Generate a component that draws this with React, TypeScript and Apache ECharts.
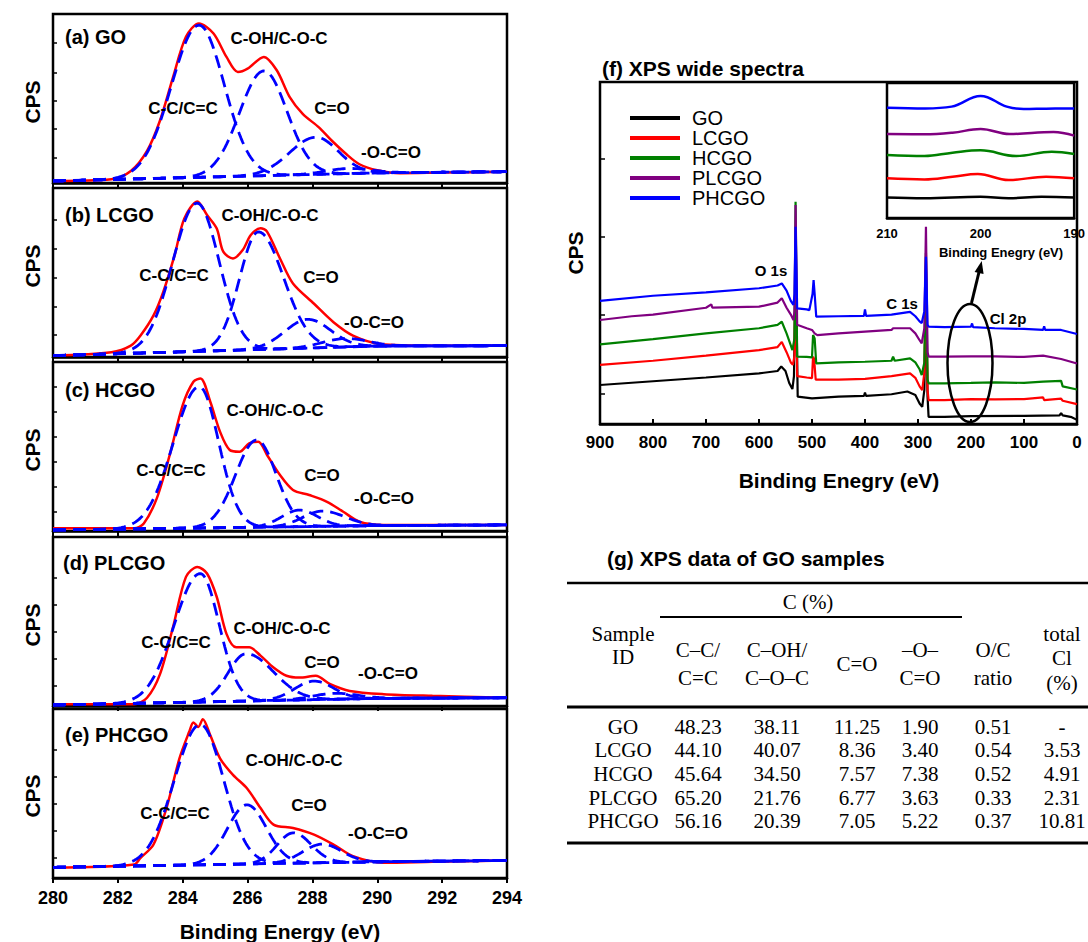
import React, { useEffect, useRef } from "react";
import * as echarts from "echarts";

const SANS = '"Liberation Sans", Arial, Helvetica, sans-serif';
const SERIF = '"Liberation Serif", "Times New Roman", serif';

// ---------- C 1s high-resolution panels (a)-(e) ----------
const panelNames = ["(a) GO", "(b) LCGO", "(c) HCGO", "(d) PLCGO", "(e) PHCGO"];
const componentNames = ["C-C/C=C", "C-OH/C-O-C", "C=O", "-O-C=O"];

// measured envelopes [binding energy eV, relative CPS]
const envGO = [[280,1.2],[281.8,2.2],[282.4,7.1],[282.9,19],[283.3,37],[283.7,62.5],[284.1,86.5],[284.5,94.4],[284.95,88.5],[285.35,74.6],[285.7,65.7],[286.0,67.7],[286.5,74.6],[286.9,66.7],[287.3,50.8],[287.7,40.9],[288.2,32.9],[288.6,25],[289.05,17],[289.45,11.1],[290,7.5],[290.7,5.8],[292,6.2],[294,6.7]];
const envLCGO = [[280,0.8],[281.8,2.8],[282.4,6.7],[282.7,12.7],[283.1,24.6],[283.4,38.5],[283.75,60.3],[284.05,82],[284.45,92],[284.75,84],[285.05,76],[285.25,62.3],[285.55,58.3],[285.85,63.3],[286.1,72.2],[286.4,76.2],[286.6,74.2],[287,58.3],[287.4,43.5],[288.05,31.5],[288.65,20.6],[289.25,12.7],[290.1,7.7],[291.7,6.7],[294,6.7]];
const envHCGO = [[280,1.6],[282.5,1.6],[282.8,4.5],[283.2,19.3],[283.6,45],[284.0,74.5],[284.33,88.3],[284.55,90.3],[284.85,76.5],[285.15,58.8],[285.45,47.9],[285.75,46.9],[286.05,51.9],[286.33,52.8],[286.6,45],[287,33.1],[287.4,24.3],[287.9,21.3],[288.45,17.3],[288.95,11.4],[289.45,5.5],[290.2,3.6],[294,3.6]];
const envPLCGO = [[280,1],[282.5,1],[282.9,4.9],[283.3,18.9],[283.7,46.6],[284.1,76.4],[284.45,82.3],[284.75,78.4],[285.05,64.5],[285.35,42.7],[285.65,34.7],[286.05,34.7],[286.4,29.8],[286.8,22.8],[287.2,17.9],[287.6,16.8],[288.1,17.9],[288.55,12.9],[289.15,8.9],[290.2,7],[291.7,6],[294,4.9]];
const envPHCGO = [[280,6.1],[282.5,8],[282.7,11.9],[283.1,19.8],[283.5,41.4],[283.9,70.8],[284.2,86.5],[284.33,92],[284.48,89.4],[284.62,94],[284.85,84.5],[285.15,70.8],[285.55,61],[285.98,53.1],[286.4,41.4],[286.8,31.6],[287.4,29.6],[288.05,25.7],[288.65,19.8],[289.25,12.9],[290.2,9],[291.7,9.6],[294,10.4]];

// background (baseline) nodes [eV, CPS]
const baseGO = [[280,1.2],[290,6],[294,6.7]];
const baseLCGO = [[280,0.8],[290,6.5],[294,6.7]];
const baseHCGO = [[280,0.6],[290,3.2],[294,3.6]];
const basePLCGO = [[280,0.6],[290,4.5],[294,4.9]];
const basePHCGO = [[280,6.3],[290,9.6],[294,10.4]];

// fitted components [centre eV, height, width low-eV side, width high-eV side]
const fitGO = [[284.5,90,0.85,0.78],[286.5,62,0.75,0.72],[288.1,22,0.8,0.7],[289.1,3,0.7,0.7]];
const fitLCGO = [[284.44,87.7,0.75,0.68],[286.33,69.6,0.58,0.78],[287.85,17,0.7,0.7],[289.0,5,0.7,0.7]];
const fitHCGO = [[284.51,83.6,0.8,0.6],[286.28,51.6,0.65,0.6],[287.6,9.8,0.55,0.55],[288.3,9,0.6,0.7]];
const fitPLCGO = [[284.54,76,0.8,0.58],[285.95,28,0.55,0.85],[288.05,11,0.6,0.6],[288.7,3.5,0.7,0.7]];
const fitPHCGO = [[284.54,83,0.8,0.72],[285.98,35,0.6,0.6],[287.41,18,0.5,0.55],[288.3,11,0.6,0.6]];

const envelopes = [envGO, envLCGO, envHCGO, envPLCGO, envPHCGO];
const baselines = [baseGO, baseLCGO, baseHCGO, basePLCGO, basePHCGO];
const fits = [fitGO, fitLCGO, fitHCGO, fitPLCGO, fitPHCGO];

// ---------- (f) wide spectra [eV, CPS] ----------
const wideGO = [[900,11.4],[800,12.5],[700,13.6],[600,14.8],[565,15.5],[558,16.8],[550,15.5],[543,12],[537,10.2],[534,14],[531,45],[529,30],[527,8],[500,7.5],[450,8],[402,8.2],[400,9.2],[398,8.2],[350,8.7],[320,9.5],[305,8.5],[297,6],[292,5],[288,10],[285,40],[282,8],[280,2.1],[250,2.1],[200,2.3],[100,2.4],[33,2.5],[30,3.2],[27,2.5],[10,2],[0,1.2]];
const wideLCGO = [[900,17.3],[800,18.5],[700,20],[600,21.6],[565,22.5],[557,24],[548,21],[540,18],[536,17.3],[533,20],[531,50],[528,14],[510,13.6],[500,13.4],[498,19.7],[496,19],[493,13],[450,13],[400,13.2],[350,14],[315,14.8],[305,13.5],[297,11],[292,9.9],[288,15],[285,45],[282,10],[280,7],[250,7],[200,7.3],[155,7.2],[100,7.3],[64,7.8],[62,7],[30,7.4],[27,6.8],[0,5.8]];
const wideHCGO = [[900,23.3],[800,24.8],[700,26.5],[600,28],[565,29],[557,29.9],[548,26.5],[540,23],[537,21.6],[533,25],[531,65],[528,19.7],[510,19.6],[500,19.5],[498,26],[495,25],[492,17.7],[450,18],[400,18.2],[350,18.5],[347,19.7],[344,18.5],[315,19.2],[305,18],[297,16],[293,14.3],[288,18],[285,50],[282,13],[280,11.9],[250,11.9],[200,12],[155,12.2],[100,12],[64,12.4],[30,12.6],[27,11],[0,10.1]];
const widePLCGO = [[900,30.4],[840,31.5],[800,32],[700,34],[690,35],[688,34],[600,34.3],[565,35.5],[557,36.8],[548,34],[540,32],[535,30.4],[533,33],[531,64],[528,29],[510,28],[500,27.5],[495,26.5],[490,26],[450,26.5],[400,27],[350,27.5],[347,28],[315,28],[305,26.5],[297,24.5],[293,23.6],[288,28],[285,57.7],[282,21],[280,19.7],[250,19.7],[200,19.8],[155,19.8],[100,19.6],[64,20],[30,19],[0,17.7]];
const widePHCGO = [[900,36],[800,37.5],[700,38.5],[600,39.7],[565,40.5],[557,41.1],[548,39],[540,36],[535,34.8],[533,38],[531,57.7],[528,33.8],[510,33.5],[505,33.3],[499,38],[497,42.1],[495,38],[492,31.4],[450,31.5],[402,31.6],[400,33.5],[398,31.6],[350,32],[315,32.8],[305,31.5],[297,30],[293,29.5],[288,33],[285,48.9],[282,29],[280,28.5],[250,28.3],[200,28.5],[198,29.4],[196,28.3],[155,28],[100,27.8],[64,27.5],[62,28.6],[60,27.5],[30,27.5],[0,26.3]];

// inset: Cl 2p region
const insetGO = [[210,15.1],[206,14.6],[200,15.8],[197,14.6],[193.5,15.8],[190,15.1]];
const insetLCGO = [[210,29.4],[206,28.6],[203,30.6],[200.3,32.6],[197,28.1],[193,30.6],[190,29.4]];
const insetHCGO = [[210,46.7],[206,45.9],[203,48.4],[200,50.1],[196.2,45.9],[192.4,49.1],[190,47.4]];
const insetPLCGO = [[210,62.2],[206,62],[203,63.2],[200,65.9],[196.9,62.2],[192.2,63.7],[190,61]];
const insetPHCGO = [[210,81.7],[205.9,81.2],[203.1,82.5],[200,90.4],[197.2,82.5],[195.4,80.7],[193,81],[190,81.2]];

const sampleNames = ["GO", "LCGO", "HCGO", "PLCGO", "PHCGO"];
const sampleColors = ["#000000", "#ff0000", "#008000", "#800080", "#0000ff"];
const wideData = [wideGO, wideLCGO, wideHCGO, widePLCGO, widePHCGO];
const insetData = [insetGO, insetLCGO, insetHCGO, insetPLCGO, insetPHCGO];

// ---------- (g) table ----------
const tableIds = ["GO", "LCGO", "HCGO", "PLCGO", "PHCGO"];
const colCC = ["48.23", "44.10", "45.64", "65.20", "56.16"];
const colCOH = ["38.11", "40.07", "34.50", "21.76", "20.39"];
const colCO = ["11.25", "8.36", "7.57", "6.77", "7.05"];
const colOCO = ["1.90", "3.40", "7.38", "3.63", "5.22"];
const colOC = ["0.51", "0.54", "0.52", "0.33", "0.37"];
const colCl = ["-", "3.53", "4.91", "2.31", "10.81"];

// ---------- layout / style constants ----------
const PANEL_LEFT = 53;
const PANEL_WIDTH = 454;
const PANEL_HEIGHT = 169;
const PANEL_TOPS = [14, 188, 362, 537, 709];
const PANEL_YTICKS = [
  [14.9, 32.1, 48.8, 65.5, 82.7],
  [13, 30, 47, 64, 81],
  [11.4, 26.2, 41, 55.8, 70.6, 85.4],
  [12, 28, 44, 60, 76],
  [12, 28, 44, 60, 76],
];
const PANEL_NAME_POS = [[65, 37], [65, 215], [65, 390], [63, 563], [65, 735]];
const COMP_LABEL_POS = [
  [[183, 108], [279, 38], [332, 108], [391, 152]],
  [[174, 275], [270, 215], [321, 277], [374, 322]],
  [[171, 470], [275, 410], [322, 475], [384, 498]],
  [[176, 642], [282, 628], [322, 662], [388, 673]],
  [[175, 813], [294, 760], [309, 805], [378, 833]],
];
const CPS_Y = [102, 266, 450, 625, 796];

const COL_X = [623, 698, 777, 857, 920, 993, 1062];
const ROW_Y = [727, 750, 774, 798, 821];

function bgAt(base: number[][], x: number) {
  for (let i = 0; i < base.length - 1; i++) {
    const [x0, y0] = base[i];
    const [x1, y1] = base[i + 1];
    if (x >= x0 && x <= x1) return y0 + ((y1 - y0) * (x - x0)) / (x1 - x0);
  }
  return base[base.length - 1][1];
}

function componentCurve(base: number[][], p: number[]) {
  const pts: number[][] = [];
  for (let i = 0; i <= 280; i++) {
    const x = 280 + i * 0.05;
    const s = x < p[0] ? p[2] : p[3];
    pts.push([x, bgAt(base, x) + p[1] * Math.exp(-((x - p[0]) ** 2) / (2 * s * s))]);
  }
  return pts;
}

function txt(x: number, y: number, text: string, font: string, extra: any = {}) {
  return {
    type: "text",
    x,
    y,
    z: 100,
    ...extra,
    style: {
      text,
      font,
      fill: "#000",
      align: extra.align || "center",
      textAlign: extra.align || "center",
      verticalAlign: "middle",
      textVerticalAlign: "middle",
    },
  };
}

function hline(x1: number, x2: number, y: number, w: number) {
  return {
    type: "line",
    z: 100,
    shape: { x1, y1: y, x2, y2: y },
    style: { stroke: "#000", lineWidth: w },
  };
}

function buildOption() {
  const grid: any[] = [];
  const xAxis: any[] = [];
  const yAxis: any[] = [];
  const series: any[] = [];
  const graphic: any[] = [];

  const dashed = { color: "#0000ff", width: 2.8, type: [13, 7] };

  for (let i = 0; i < 5; i++) {
    grid.push({
      left: PANEL_LEFT,
      top: PANEL_TOPS[i],
      width: PANEL_WIDTH,
      height: PANEL_HEIGHT,
      show: true,
      borderColor: "#000",
      borderWidth: 2.5,
      backgroundColor: "transparent",
    });
    xAxis.push({
      type: "value",
      gridIndex: i,
      min: 280,
      max: 294,
      interval: 2,
      axisLine: { show: true, onZero: false, lineStyle: { color: "#000", width: 2.5 } },
      axisTick: { show: true, inside: false, length: 5, lineStyle: { color: "#000", width: 2 } },
      splitLine: { show: false },
      axisLabel: {
        show: i === 4,
        color: "#000",
        fontSize: 18,
        fontWeight: "bold",
        fontFamily: SANS,
        margin: 11,
        showMinLabel: true,
        showMaxLabel: true,
      },
    });
    yAxis.push({
      type: "value",
      gridIndex: i,
      min: 0,
      max: 100,
      axisLine: { show: false, onZero: false },
      axisLabel: { show: false },
      splitLine: { show: false },
      axisTick: {
        show: true,
        inside: true,
        length: 4,
        customValues: PANEL_YTICKS[i],
        lineStyle: { color: "#000", width: 1.5 },
      },
    });
    series.push({
      type: "line",
      name: panelNames[i] + " envelope",
      xAxisIndex: i,
      yAxisIndex: i,
      data: envelopes[i],
      smooth: 0.3,
      showSymbol: false,
      lineStyle: { color: "#ff0000", width: 2.5 },
      z: 2,
    });
    series.push({
      type: "line",
      name: panelNames[i] + " background",
      xAxisIndex: i,
      yAxisIndex: i,
      data: baselines[i],
      showSymbol: false,
      lineStyle: dashed,
      z: 3,
    });
    fits[i].forEach((p, k) => {
      series.push({
        type: "line",
        name: panelNames[i] + " " + componentNames[k],
        xAxisIndex: i,
        yAxisIndex: i,
        data: componentCurve(baselines[i], p),
        showSymbol: false,
        lineStyle: dashed,
        z: 3,
      });
    });

    graphic.push(
      txt(PANEL_NAME_POS[i][0], PANEL_NAME_POS[i][1], panelNames[i], `bold 20px ${SANS}`, { align: "left" })
    );
    componentNames.forEach((c, k) => {
      graphic.push(txt(COMP_LABEL_POS[i][k][0], COMP_LABEL_POS[i][k][1], c, `bold 17px ${SANS}`));
    });
    graphic.push(txt(32, CPS_Y[i], "CPS", `bold 21px ${SANS}`, { rotation: Math.PI / 2 }));
  }
  graphic.push(txt(280, 931, "Binding Energy (eV)", `bold 21px ${SANS}`));

  // (f) wide spectra
  grid.push({
    left: 600,
    top: 82,
    width: 477,
    height: 342,
    show: true,
    borderColor: "#000",
    borderWidth: 2.5,
    backgroundColor: "transparent",
  });
  xAxis.push({
    type: "value",
    gridIndex: 5,
    min: 0,
    max: 900,
    interval: 100,
    inverse: true,
    axisLine: { show: true, onZero: false, lineStyle: { color: "#000", width: 2.5 } },
    axisTick: { show: true, inside: true, length: 5, lineStyle: { color: "#000", width: 2 } },
    splitLine: { show: false },
    axisLabel: {
      color: "#000",
      fontSize: 17,
      fontWeight: "bold",
      fontFamily: SANS,
      margin: 10,
      showMinLabel: true,
      showMaxLabel: true,
    },
  });
  yAxis.push({
    type: "value",
    gridIndex: 5,
    position: "left",
    min: 0,
    max: 100,
    axisLine: { show: false, onZero: false },
    axisLabel: { show: false },
    splitLine: { show: false },
    axisTick: {
      show: true,
      inside: true,
      length: 5,
      customValues: [8.9, 31.9, 54.8, 77.7],
      lineStyle: { color: "#000", width: 1.5 },
    },
  });
  sampleNames.forEach((n, k) => {
    series.push({
      type: "line",
      name: n,
      xAxisIndex: 5,
      yAxisIndex: 5,
      data: wideData[k],
      showSymbol: false,
      lineStyle: { color: sampleColors[k], width: 2.2 },
      itemStyle: { color: sampleColors[k] },
      z: 2 + k,
    });
  });

  // inset
  grid.push({
    left: 887,
    top: 83,
    width: 191,
    height: 135,
    show: true,
    borderColor: "#000",
    borderWidth: 2.5,
    backgroundColor: "#ffffff",
    z: 5,
  });
  xAxis.push({
    type: "value",
    gridIndex: 6,
    min: 190,
    max: 210,
    interval: 10,
    inverse: true,
    axisLine: { show: true, onZero: false, lineStyle: { color: "#000", width: 2.5 } },
    axisTick: { show: true, inside: true, length: 4, lineStyle: { color: "#000", width: 2 } },
    splitLine: { show: false },
    axisLabel: {
      color: "#000",
      fontSize: 13,
      fontWeight: "bold",
      fontFamily: SANS,
      margin: 9,
      showMinLabel: true,
      showMaxLabel: true,
    },
  });
  yAxis.push({
    type: "value",
    gridIndex: 6,
    position: "left",
    min: 0,
    max: 100,
    axisLine: { show: false, onZero: false },
    axisLabel: { show: false },
    splitLine: { show: false },
    axisTick: {
      show: true,
      inside: true,
      length: 4,
      customValues: [9.6, 28, 47, 66],
      lineStyle: { color: "#000", width: 1.5 },
    },
  });
  sampleNames.forEach((n, k) => {
    series.push({
      type: "line",
      name: n,
      xAxisIndex: 6,
      yAxisIndex: 6,
      data: insetData[k],
      smooth: 0.4,
      showSymbol: false,
      lineStyle: { color: sampleColors[k], width: 2.5 },
      itemStyle: { color: sampleColors[k] },
      z: 10 + k,
    });
  });

  graphic.push(txt(602, 68, "(f) XPS wide spectra", `bold 21px ${SANS}`, { align: "left" }));
  graphic.push(txt(839, 480, "Binding Enegry (eV)", `bold 21px ${SANS}`));
  graphic.push(txt(575, 253, "CPS", `bold 21px ${SANS}`, { rotation: Math.PI / 2 }));
  graphic.push(txt(771, 270, "O 1s", `bold 15px ${SANS}`));
  graphic.push(txt(902, 303, "C 1s", `bold 15px ${SANS}`));
  graphic.push(txt(1008, 318, "Cl 2p", `bold 15px ${SANS}`));
  graphic.push(txt(1001, 252, "Binding Enegry (eV)", `bold 13px ${SANS}`));
  graphic.push({
    type: "ellipse",
    z: 100,
    shape: { cx: 970, cy: 363, rx: 22.5, ry: 59 },
    style: { fill: "none", stroke: "#000", lineWidth: 2.5 },
  });
  graphic.push({
    type: "line",
    z: 100,
    shape: { x1: 971.5, y1: 303, x2: 979.5, y2: 270 },
    style: { stroke: "#000", lineWidth: 3 },
  });
  graphic.push({
    type: "polygon",
    z: 100,
    shape: { points: [[981.7, 261], [974.6, 272], [983.6, 274]] },
    style: { fill: "#000" },
  });

  // (g) table
  graphic.push(txt(607, 558, "(g) XPS data of GO samples", `bold 21px ${SANS}`, { align: "left" }));
  graphic.push(hline(567, 1088, 583, 2.5));
  graphic.push(hline(660, 962, 617, 2));
  graphic.push(hline(567, 1088, 707, 3));
  graphic.push(hline(567, 1088, 843, 3));
  const serif = `21px ${SERIF}`;
  graphic.push(txt(808, 602, "C (%)", serif));
  graphic.push(txt(COL_X[0], 634, "Sample", serif));
  graphic.push(txt(COL_X[0], 657, "ID", serif));
  graphic.push(txt(COL_X[1], 650, "C–C/", serif));
  graphic.push(txt(COL_X[1], 678, "C=C", serif));
  graphic.push(txt(COL_X[2], 650, "C–OH/", serif));
  graphic.push(txt(COL_X[2], 678, "C–O–C", serif));
  graphic.push(txt(COL_X[3], 664, "C=O", serif));
  graphic.push(txt(COL_X[4], 650, "–O–", serif));
  graphic.push(txt(COL_X[4], 678, "C=O", serif));
  graphic.push(txt(COL_X[5], 650, "O/C", serif));
  graphic.push(txt(COL_X[5], 678, "ratio", serif));
  graphic.push(txt(COL_X[6], 634, "total", serif));
  graphic.push(txt(COL_X[6], 658, "Cl", serif));
  graphic.push(txt(COL_X[6], 683, "(%)", serif));
  const cols = [tableIds, colCC, colCOH, colCO, colOCO, colOC, colCl];
  cols.forEach((col, c) => {
    col.forEach((v, r) => {
      graphic.push(txt(COL_X[c], ROW_Y[r], v, serif));
    });
  });

  return {
    animation: false,
    backgroundColor: "#ffffff",
    grid,
    xAxis,
    yAxis,
    series,
    graphic,
    legend: {
      data: sampleNames,
      left: 630,
      top: 108,
      padding: 0,
      orient: "vertical",
      icon: "rect",
      itemWidth: 50,
      itemHeight: 4,
      itemGap: 0,
      selectedMode: false,
      textStyle: {
        color: "#000",
        fontSize: 20,
        fontFamily: SANS,
        lineHeight: 19.3,
        padding: [0, 0, 0, 7],
      },
    },
  };
}

export default function App() {
  const ref = useRef<HTMLDivElement>(null);
  useEffect(() => {
    const chart = echarts.init(ref.current as HTMLDivElement, null, { renderer: "svg" });
    chart.setOption(buildOption() as any);
    return () => chart.dispose();
  }, []);
  return (
    <div
      ref={ref}
      style={{ position: "absolute", left: 0, top: 0, width: 1088, height: 942, background: "#fff" }}
    />
  );
}
